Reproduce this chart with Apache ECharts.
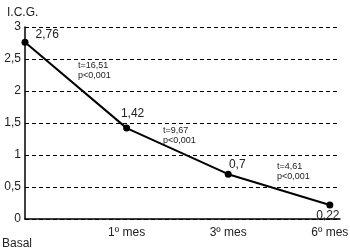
<!DOCTYPE html>
<html>
<head>
<meta charset="utf-8">
<script src="https://cdn.jsdelivr.net/npm/echarts@6/dist/echarts.min.js"></script>
<style>
  html, body { margin: 0; padding: 0; background: #fff; }
  #chart { width: 350px; height: 252px; }
</style>
</head>
<body>
<div id="chart"></div>
<script>
// 数据
var categories = ['Basal', '1º mes', '3º mes', '6º mes'];
var icgValues = [2.76, 1.42, 0.7, 0.22];
var yTicks = [0, 0.5, 1, 1.5, 2, 2.5, 3];
var stats = [
  ['t=16,51', 'p<0,001'],
  ['t=9,67', 'p<0,001'],
  ['t=4,61', 'p<0,001']
];

var FONT = '"Liberation Sans", Arial, sans-serif';
var chart = echarts.init(document.getElementById('chart'));

function fmt(v) {
  return String(v).replace('.', ',');
}

// 每个点的标签位置
var labelPos = [
  { position: 'right', offset: [2, -8] },
  { position: 'top', offset: [6, 0] },
  { position: 'top', offset: [9, 5] },
  { position: 'bottom', offset: [-2, -4] }
];

chart.setOption({
  animation: false,
  grid: { left: 25, right: 10, top: 27, bottom: 33, outerBoundsMode: 'none' },
  title: {
    text: 'I.C.G.',
    left: 2,
    top: 2,
    textStyle: { fontFamily: FONT, fontSize: 12, fontWeight: 'normal', color: '#222' }
  },
  xAxis: {
    type: 'value',
    min: 0,
    max: 3.1,
    interval: 1,
    axisLine: { show: true, lineStyle: { color: '#000', width: 1.5 } },
    axisTick: { show: false },
    splitLine: { show: false },
    axisLabel: {
      margin: 8,
      fontFamily: FONT,
      fontSize: 12,
      color: '#222',
      showMaxLabel: false,
      formatter: function (v) {
        if (v === 0) return '{b|' + categories[0] + '}';
        return categories[v] || '';
      },
      rich: {
        b: { fontFamily: FONT, fontSize: 12, color: '#222', padding: [11, 16, 0, 0] }
      }
    }
  },
  yAxis: {
    type: 'value',
    min: yTicks[0],
    max: yTicks[yTicks.length - 1],
    interval: 0.5,
    axisLine: { show: true, lineStyle: { color: '#000', width: 1.5 } },
    axisTick: { show: false },
    axisLabel: {
      margin: 4,
      fontFamily: FONT,
      fontSize: 12,
      color: '#222',
      formatter: fmt
    },
    splitLine: {
      show: true,
      lineStyle: { color: '#000', width: 1, type: [4, 3] }
    }
  },
  series: [{
    type: 'line',
    data: icgValues.map(function (v, i) {
      return {
        value: [i, v],
        label: {
          show: true,
          position: labelPos[i].position,
          offset: labelPos[i].offset,
          formatter: fmt(v),
          fontFamily: FONT,
          fontSize: 12,
          color: '#222'
        }
      };
    }),
    symbol: 'circle',
    symbolSize: 7,
    itemStyle: { color: '#000' },
    lineStyle: { color: '#000', width: 2 },
    z: 5
  }],
  graphic: [
    { type: 'text', left: 78, top: 61, style: { text: stats[0].join('\n'), fontFamily: FONT, fontSize: 9, lineHeight: 10, fill: '#222' } },
    { type: 'text', left: 163, top: 126, style: { text: stats[1].join('\n'), fontFamily: FONT, fontSize: 9, lineHeight: 10, fill: '#222' } },
    { type: 'text', left: 277, top: 162, style: { text: stats[2].join('\n'), fontFamily: FONT, fontSize: 9, lineHeight: 10, fill: '#222' } }
  ]
});
</script>
</body>
</html>
